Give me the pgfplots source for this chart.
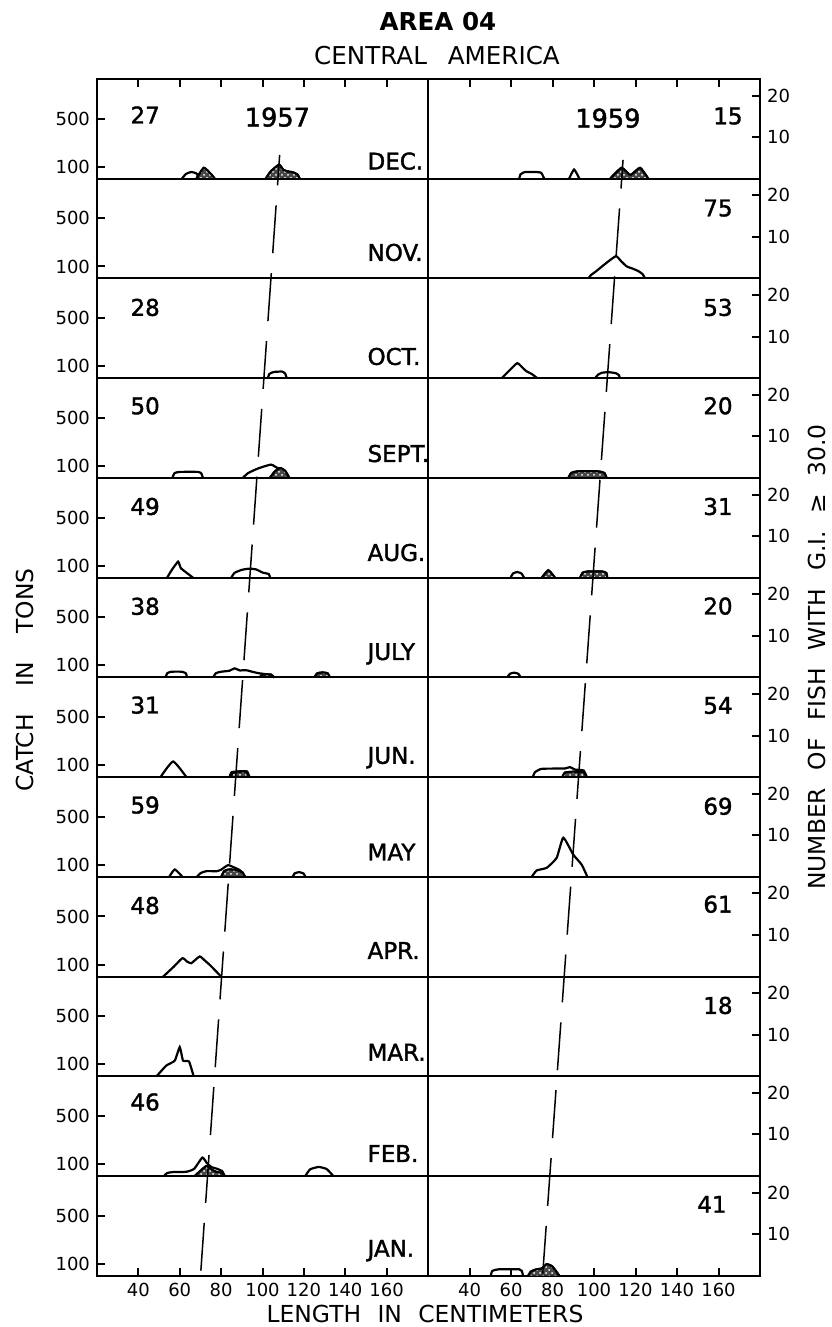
\documentclass[border=0pt]{standalone}
\usepackage{fontspec}
\setmainfont{DejaVu Sans}
\newfontface\heavy{DejaVu Sans}[FakeBold=1.6]
\usepackage{pgfplots}
\pgfplotsset{compat=1.18}
\usetikzlibrary{patterns}
\newcommand\ticksz{\fontsize{9}{10}\selectfont}
\pgfplotsset{
  panel/.style={scale only axis, anchor=south west, width=165.5pt, height=49.86pt,
    xmin=20, xmax=180, ymin=0, ymax=830, clip=false,
    axis line style={line width=1pt},
    xtick=\empty, ytick=\empty,
    major tick length=4pt, tick style={line width=1pt, black},
    tick label style={font=\ticksz},
    /pgf/number format/assume math mode=true},
  L/.style={panel, at={(48.5pt,#1)}, ytick={100,500}, ytick pos=left, yticklabel pos=left},
  R/.style={panel, at={(214pt,#1)}, width=166pt, ytick={345.83,691.67}, yticklabels={10,20}, ytick pos=right, yticklabel pos=right},
  toprow/.style={xtick={40,60,...,160}, xtick pos=right, xticklabels={}},
  botrow/.style={xtick={40,60,...,160}, xtick pos=left, xticklabel pos=left},
  catch/.style={black, line width=1.1pt, smooth, tension=0.3, mark=none},
  fish/.style={black, line width=1pt, smooth, tension=0.3, mark=none, fill=black!72,
    postaction={pattern=crosshatch dots, pattern color=white}},
  growth/.style={black, line width=0.75pt, mark=none, dash pattern=on 24pt off 10pt},
}
\tikzset{
  num/.style={anchor=west, inner sep=0pt, font=\fontsize{11.5}{12}\heavy},
  yr/.style={inner sep=0pt, font=\fontsize{12.8}{14}\heavy},
  mon/.style={anchor=base west, inner sep=0pt, font=\fontsize{11.5}{12}\heavy},
}
\begin{document}
\begin{tikzpicture}
\useasboundingbox (0,0) rectangle (415.5pt,663.5pt);
% ---------- DEC ----------
\begin{axis}[L=574.11pt, toprow]
\addplot[catch] coordinates {(61,0)(63,40)(65.5,56)(68,45)(69.5,0)};
\addplot[fish] table[row sep=\\, y expr=\thisrow{n}*34.583] {x n\\68 0\\71.6 2.65\\75 1.2\\77 0\\};
\addplot[fish] table[row sep=\\, y expr=\thisrow{n}*34.583] {x n\\101.5 0\\104 1.8\\108 3.4\\110 2.2\\112 1.8\\114.5 1.6\\117 1.0\\118 0\\};
\node[num] at (axis cs:36,531) {27};
\node[yr] at (axis cs:107.2,513) {1957};
\node[mon] at (axis cs:150.6,77) {DEC.};
\end{axis}
\begin{axis}[R=574.11pt, toprow]
\addplot[catch] coordinates {(64,0)(64.5,35)(66.5,55)(71,57)(74.5,50)(76,0)};
\addplot[catch] coordinates {(88,0)(90.4,77)(93,0)};
\addplot[fish] table[row sep=\\, y expr=\thisrow{n}*34.583] {x n\\107.7 0\\113.3 2.65\\117.5 0.9\\122.2 2.65\\126.2 0\\};
\node[num] at (axis cs:157.3,522) {15};
\node[yr] at (axis cs:106.7,504) {1959};
\end{axis}
% ---------- NOV ----------
\begin{axis}[L=524.25pt]
\node[mon] at (axis cs:150.6,147) {NOV.};
\end{axis}
\begin{axis}[R=524.25pt]
\addplot[catch] coordinates {(97.3,0)(98.5,28)(101,60)(106,130)(110.6,186)(113,145)(115.8,100)(118.5,83)(121.3,62)(123.5,35)(124.6,0)};
\node[num] at (axis cs:152.5,586) {75};
\end{axis}
% ---------- OCT ----------
\begin{axis}[L=474.39pt]
\addplot[catch] coordinates {(102.6,0)(103.3,35)(105.5,52)(109.5,55)(111,38)(111.7,0)};
\node[num] at (axis cs:36,589) {28};
\node[mon] at (axis cs:150.6,111) {OCT.};
\end{axis}
\begin{axis}[R=474.39pt]
\addplot[catch] coordinates {(55.5,0)(59,60)(63,125)(66,80)(67.6,56)(70,35)(72.7,0)};
\addplot[catch] coordinates {(100.5,0)(102,30)(104,46)(107,50)(110.5,42)(112,25)(112.5,0)};
\node[num] at (axis cs:152.5,589) {53};
\end{axis}
% ---------- SEPT ----------
\begin{axis}[L=424.53pt]
\addplot[catch] coordinates {(56.4,0)(57.5,40)(60,50)(69,50)(70.5,35)(71.2,0)};
\addplot[catch] coordinates {(90.5,0)(93,40)(98,80)(104,111)(106,95)(110,55)(113,0)};
\addplot[fish] table[row sep=\\, y expr=\thisrow{n}*34.583] {x n\\103.5 0\\106 1.6\\108.5 2.4\\111 1.7\\113 0\\};
\node[num] at (axis cs:36,600) {50};
\node[mon] at (axis cs:150.6,133) {SEPT.};
\end{axis}
\begin{axis}[R=424.53pt]
\addplot[fish] table[row sep=\\, y expr=\thisrow{n}*34.583] {x n\\87.6 0\\89 1.2\\92 1.6\\102 1.6\\105 1.2\\106.1 0\\};
\node[num] at (axis cs:152.5,600) {20};
\end{axis}
% ---------- AUG ----------
\begin{axis}[L=374.67pt]
\addplot[catch] coordinates {(53.9,0)(56,60)(59.2,133)(60.5,80)(63.2,42)(66.4,0)};
\addplot[catch] coordinates {(84.9,0)(86.5,40)(90,65)(93.7,75)(97,68)(100.1,42)(103,30)(103.7,0)};
\node[num] at (axis cs:36,592) {49};
\node[mon] at (axis cs:150.6,139) {AUG.};
\end{axis}
\begin{axis}[R=374.67pt]
\addplot[catch] coordinates {(59.8,0)(61,35)(63,47)(65,35)(66.3,0)};
\addplot[fish] table[row sep=\\, y expr=\thisrow{n}*34.583] {x n\\74.8 0\\78 1.8\\81.2 0\\};
\addplot[fish] table[row sep=\\, y expr=\thisrow{n}*34.583] {x n\\93.3 0\\94.5 1.2\\97 1.5\\104 1.5\\106 1.1\\106.4 0\\};
\node[num] at (axis cs:152.5,592) {31};
\end{axis}
% ---------- JULY ----------
\begin{axis}[L=324.81pt]
\addplot[catch] coordinates {(53.1,0)(54,35)(56,47)(61,47)(63,33)(63.5,0)};
\addplot[catch] coordinates {(76.1,0)(77.5,35)(80,47)(84,55)(86.5,75)(89,58)(92,60)(95,47)(98,35)(102,25)(105.8,0)};
\addplot[fish] table[row sep=\\, y expr=\thisrow{n}*34.583] {x n\\98.6 0\\100 0.7\\104 0.7\\105.8 0\\};
\addplot[fish] table[row sep=\\, y expr=\thisrow{n}*34.583] {x n\\125 0\\126.5 1.0\\129 1.2\\131.5 1.0\\132.6 0\\};
\node[num] at (axis cs:36,591) {38};
\node[mon] at (axis cs:150.6,145) {JULY};
\end{axis}
\begin{axis}[R=324.81pt]
\addplot[catch] coordinates {(58.2,0)(59.5,30)(61.5,39)(63.5,30)(64.7,0)};
\node[num] at (axis cs:152.5,593) {20};
\end{axis}
% ---------- JUN ----------
\begin{axis}[L=274.95pt]
\addplot[catch] coordinates {(50.7,0)(56.8,130)(63.2,0)};
\addplot[catch] coordinates {(84.1,0)(85,40)(88,47)(92.5,47)(93.7,0)};
\addplot[fish] table[row sep=\\, y expr=\thisrow{n}*34.583] {x n\\84.6 0\\85.5 1.0\\88 1.3\\92 1.3\\93.2 0\\};
\node[num] at (axis cs:36,599) {31};
\node[mon] at (axis cs:150.6,111) {JUN.};
\end{axis}
\begin{axis}[R=274.95pt]
\addplot[catch] coordinates {(70.5,0)(71.5,40)(74,65)(76,70)(86,72)(88.4,83)(91,62)(95,55)(96.5,0)};
\addplot[fish] table[row sep=\\, y expr=\thisrow{n}*34.583] {x n\\84.7 0\\86 1.1\\90 1.3\\95 1.2\\96.5 0\\};
\node[num] at (axis cs:152.5,596) {54};
\end{axis}
% ---------- MAY ----------
\begin{axis}[L=225.09pt]
\addplot[catch] coordinates {(54.9,0)(57.6,61)(61.3,0)};
\addplot[catch] coordinates {(68.3,0)(70,30)(72.8,47)(78,47)(80,60)(83.3,97)(86,80)(89,55)(91.8,0)};
\addplot[fish] table[row sep=\\, y expr=\thisrow{n}*34.583] {x n\\80 0\\81.5 1.4\\84 1.8\\88 1.6\\90.5 1.0\\91.3 0\\};
\addplot[catch] coordinates {(114.6,0)(115.5,28)(117.6,39)(119.8,28)(120.7,0)};
\node[num] at (axis cs:36,597) {59};
\node[mon] at (axis cs:150.6,136) {MAY};
\end{axis}
\begin{axis}[R=225.09pt]
\addplot[catch] coordinates {(70,0)(72.4,53)(77.2,75)(82,158)(85.2,325)(90,185)(94.1,100)(96.8,0)};
\node[num] at (axis cs:152.5,587) {69};
\end{axis}
% ---------- APR ----------
\begin{axis}[L=175.23pt]
\addplot[catch] coordinates {(52,0)(57,80)(61.3,153)(63.5,125)(65.6,111)(69.6,167)(72,135)(74.5,97)(80,0)};
\node[num] at (axis cs:36,591) {48};
\node[mon] at (axis cs:150.6,147) {APR.};
\end{axis}
\begin{axis}[R=175.23pt]
\node[num] at (axis cs:152.5,602) {61};
\end{axis}
% ---------- MAR ----------
\begin{axis}[L=125.37pt]
\addplot[catch] coordinates {(48.8,0)(53.5,89)(57.6,130)(60,242)(61.6,130)(64.5,122)(66.7,0)};
\node[mon] at (axis cs:150.6,130) {MAR.};
\end{axis}
\begin{axis}[R=125.37pt]
\node[num] at (axis cs:152.5,589) {18};
\end{axis}
% ---------- FEB ----------
\begin{axis}[L=75.51pt]
\addplot[catch] coordinates {(52.3,0)(54,25)(57,33)(63.2,35)(67,60)(70.9,153)(73,110)(75.2,75)(78,60)(80.5,40)(81.7,0)};
\addplot[fish] table[row sep=\\, y expr=\thisrow{n}*34.583] {x n\\67.2 0\\72.8 2.4\\75.5 1.5\\77.7 1.0\\80.5 0.7\\81.7 0\\};
\addplot[catch] coordinates {(120.7,0)(123,55)(127.1,75)(131,58)(134.2,0)};
\node[num] at (axis cs:36,616) {46};
\node[mon] at (axis cs:150.6,117) {FEB.};
\end{axis}
\begin{axis}[R=75.51pt]
\end{axis}
% ---------- JAN ----------
\begin{axis}[L=25.65pt, botrow]
\node[mon] at (axis cs:150.6,158) {JAN.};
\end{axis}
\begin{axis}[R=25.65pt, botrow]
\addplot[catch] coordinates {(50.2,0)(51,40)(54,53)(64,53)(65.2,40)(65.8,0)};
\addplot[fish] table[row sep=\\, y expr=\thisrow{n}*34.583] {x n\\68.3 0\\69.5 1.0\\72 1.5\\75 1.8\\77.2 2.8\\80 2.2\\83.3 0\\};
\node[num] at (axis cs:149.6,594) {41};
\end{axis}
% ---------- growth lines ----------
\begin{axis}[at={(48.5pt,25.65pt)}, anchor=south west, scale only axis, width=165.5pt, height=598.32pt,
  xmin=20, xmax=180, ymin=0, ymax=12, hide axis, clip=false]
\addplot[growth] coordinates {(70.2,0.05)(108.3,11.24)};
\end{axis}
\begin{axis}[at={(214pt,25.65pt)}, anchor=south west, scale only axis, width=166pt, height=598.32pt,
  xmin=20, xmax=180, ymin=0, ymax=12, hide axis, clip=false]
\addplot[growth] coordinates {(75.3,0.02)(114,11.19)};
\end{axis}
% ---------- titles and labels ----------
\node[font=\fontsize{12.3}{14}\selectfont\bfseries] at (219pt,652.5pt) {AREA 04};
\node[font=\fontsize{12.3}{14}\selectfont] at (218.5pt,635.5pt) {CENTRAL\hspace{0.85em}AMERICA};
\node[font=\fontsize{11.7}{13}\selectfont] at (212.5pt,6.5pt) {LENGTH\hspace{0.7em}IN\hspace{0.7em}CENTIMETERS};
\node[rotate=90, font=\fontsize{11.7}{13}\selectfont] at (12.5pt,323.5pt) {CATCH\hspace{1.2em}IN\hspace{1.2em}TONS};
\node[rotate=90, font=\fontsize{11.7}{13}\selectfont] at (408.5pt,335pt) {NUMBER\hspace{0.75em}OF\hspace{0.75em}FISH\hspace{0.75em}WITH\hspace{0.75em}G.I.\hspace{0.75em}≥\hspace{0.75em}30.0};
\end{tikzpicture}
\end{document}
